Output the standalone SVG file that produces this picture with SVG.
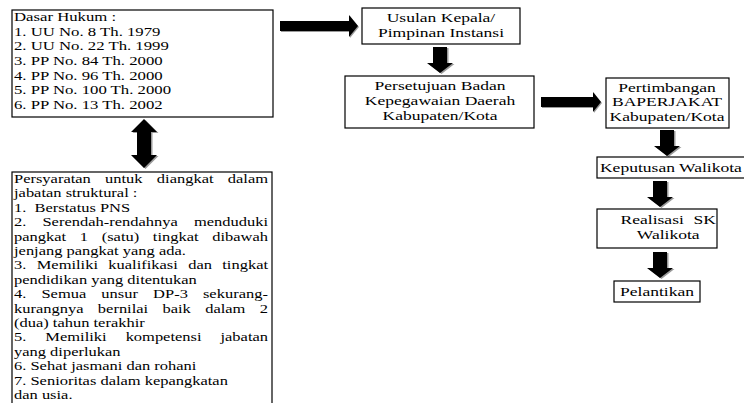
<svg xmlns="http://www.w3.org/2000/svg" width="744" height="403" viewBox="0 0 744 403">
  <style>
    .box { fill: #ffffff; stroke: #000000; stroke-width: 1.2; }
    .txt { font-family: "Liberation Serif", "Times New Roman", serif; font-size: 13.5px; fill: #000000; }
    .mid { text-anchor: middle; }
    .arrow { fill: #000000; }
    .shade { fill: #9a9a9a; }
  </style>
  <defs>
    <!-- block arrow shapes, drawn at the origin and placed with translate -->
    <path id="arrowDown" d="M-7,0 H7 V16 H13 L0,26 L-13,16 H-7 Z"/>
    <path id="arrowDouble" d="M0,0 L13,13 H7 V36 H13 L0,49 L-13,36 H-7 V13 H-13 Z"/>
  </defs>

  <!-- connectors -->
  <g id="connectors">
    <g transform="translate(144,119)"><use href="#arrowDouble" class="shade" x="1.5" y="1"/><use href="#arrowDouble" class="arrow"/></g>
    <path class="shade" d="M281,22 H350 V16 L359,27 L350,38 V32 H281 Z"/>
    <path class="arrow" d="M280,21 H349 V15 L358,26 L349,37 V31 H280 Z"/>
    <g transform="translate(440,47)"><use href="#arrowDown" class="shade" x="1.5" y="1"/><use href="#arrowDown" class="arrow"/></g>
    <path class="shade" d="M542,98 H594 V93 L602,103 L594,113 V108 H542 Z"/>
    <path class="arrow" d="M541,97 H593 V92 L601,102 L593,112 V107 H541 Z"/>
    <g transform="translate(667,130)"><use href="#arrowDown" class="shade" x="1.5" y="1"/><use href="#arrowDown" class="arrow"/></g>
    <g transform="translate(660,181)"><use href="#arrowDown" class="shade" x="1.5" y="1"/><use href="#arrowDown" class="arrow"/></g>
    <g transform="translate(660,252)"><use href="#arrowDown" class="shade" x="1.5" y="1"/><use href="#arrowDown" class="arrow"/></g>
  </g>

  <!-- legal basis -->
  <g id="dasar-hukum">
    <rect class="box" x="12" y="10" width="261" height="107"/>
    <g transform="scale(1.24,1)">
      <text class="txt" x="11.3" y="21">Dasar Hukum :</text>
      <text class="txt" x="11.3" y="35.7">1. UU No. 8 Th. 1979</text>
      <text class="txt" x="11.3" y="50.3">2. UU No. 22 Th. 1999</text>
      <text class="txt" x="11.3" y="65">3. PP No. 84 Th. 2000</text>
      <text class="txt" x="11.3" y="79.7">4. PP No. 96 Th. 2000</text>
      <text class="txt" x="11.3" y="94.3">5. PP No. 100 Th. 2000</text>
      <text class="txt" x="11.3" y="109">6. PP No. 13 Th. 2002</text>
    </g>
  </g>

  <!-- requirements, justified lines spread by word spacing -->
  <g id="persyaratan">
    <rect class="box" x="12" y="172" width="260" height="240"/>
    <g transform="scale(1.22,1)">
      <text class="txt" x="11.5" y="183" word-spacing="8.3" textLength="208.2" lengthAdjust="spacing">Persyaratan untuk diangkat dalam</text>
      <text class="txt" x="11.5" y="197.4">jabatan struktural :</text>
      <text class="txt" x="11.5" y="211.8" xml:space="preserve">1.  Berstatus PNS</text>
      <text class="txt" x="11.5" y="226.2" word-spacing="9.8" textLength="208.2" lengthAdjust="spacing">2. Serendah-rendahnya menduduki</text>
      <text class="txt" x="11.5" y="240.6" word-spacing="7.8" textLength="208.2" lengthAdjust="spacing">pangkat 1 (satu) tingkat dibawah</text>
      <text class="txt" x="11.5" y="255">jenjang pangkat yang ada.</text>
      <text class="txt" x="11.5" y="269.4" word-spacing="5.1" textLength="208.2" lengthAdjust="spacing">3. Memiliki kualifikasi dan tingkat</text>
      <text class="txt" x="11.5" y="283.8">pendidikan yang ditentukan</text>
      <text class="txt" x="11.5" y="298.2" word-spacing="8.9" textLength="208.2" lengthAdjust="spacing">4. Semua unsur DP-3 sekurang-</text>
      <text class="txt" x="11.5" y="312.6" word-spacing="8.4" textLength="208.2" lengthAdjust="spacing">kurangnya bernilai baik dalam 2</text>
      <text class="txt" x="11.5" y="327">(dua) tahun terakhir</text>
      <text class="txt" x="11.5" y="341.4" word-spacing="12.2" textLength="208.2" lengthAdjust="spacing">5. Memiliki kompetensi jabatan</text>
      <text class="txt" x="11.5" y="355.8">yang diperlukan</text>
      <text class="txt" x="11.5" y="370.2">6. Sehat jasmani dan rohani</text>
      <text class="txt" x="11.5" y="384.6">7. Senioritas dalam kepangkatan</text>
      <text class="txt" x="11.5" y="399">dan usia.</text>
    </g>
  </g>

  <g id="usulan">
    <rect class="box" x="362" y="8" width="158" height="36"/>
    <g transform="scale(1.3,1)">
      <text class="txt mid" x="339.2" y="22">Usulan Kepala/</text>
      <text class="txt mid" x="339.2" y="37">Pimpinan Instansi</text>
    </g>
  </g>

  <g id="persetujuan">
    <rect class="box" x="345" y="76" width="189" height="52"/>
    <g transform="scale(1.3,1)">
      <text class="txt mid" x="338.5" y="90">Persetujuan Badan</text>
      <text class="txt mid" x="338.5" y="105">Kepegawaian Daerah</text>
      <text class="txt mid" x="338.5" y="120">Kabupaten/Kota</text>
    </g>
  </g>

  <g id="pertimbangan">
    <rect class="box" x="606" y="78" width="123" height="50"/>
    <g transform="scale(1.3,1)">
      <text class="txt mid" x="513.1" y="92">Pertimbangan</text>
      <text class="txt mid" x="513.1" y="106">BAPERJAKAT</text>
      <text class="txt mid" x="513.1" y="121">Kabupaten/Kota</text>
    </g>
  </g>

  <g id="keputusan">
    <rect class="box" x="597" y="157" width="160" height="21"/>
    <g transform="scale(1.3,1)">
      <text class="txt" x="461.5" y="172">Keputusan Walikota</text>
    </g>
  </g>

  <g id="realisasi">
    <rect class="box" x="597" y="209" width="120" height="39"/>
    <g transform="scale(1.3,1)">
      <text class="txt mid" x="514" y="224" word-spacing="4">Realisasi SK</text>
      <text class="txt mid" x="514" y="239">Walikota</text>
    </g>
  </g>

  <g id="pelantikan">
    <rect class="box" x="614" y="281" width="86" height="21"/>
    <g transform="scale(1.3,1)">
      <text class="txt mid" x="505.4" y="296">Pelantikan</text>
    </g>
  </g>
</svg>
